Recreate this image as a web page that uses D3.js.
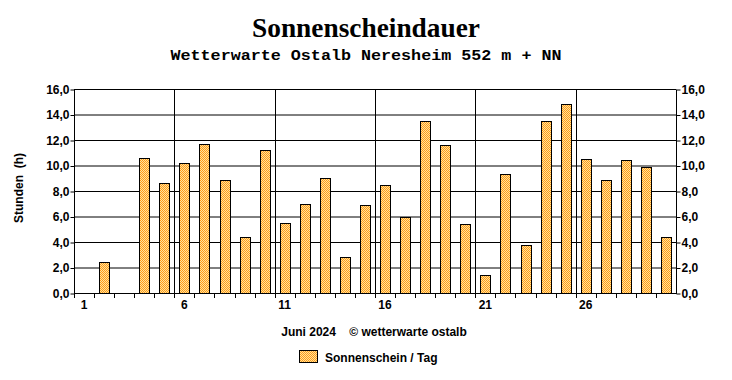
<!DOCTYPE html>
<html>
<head>
<meta charset="utf-8">
<script src="https://cdn.jsdelivr.net/npm/d3@7"></script>
<style>
  body { margin: 0; background: #fff; }
  text { font-weight: bold; }
</style>
</head>
<body>
<div id="chart"></div>
<script>
const days = d3.range(1, 31);
const sunHours = [0, 2.4, 0, 10.6, 8.6, 10.2, 11.7, 8.9, 4.4, 11.2,
                  5.5, 7.0, 9.0, 2.8, 6.9, 8.5, 6.0, 13.5, 11.6, 5.4,
                  1.4, 9.3, 3.8, 13.5, 14.8, 10.5, 8.9, 10.4, 9.9, 4.4];
const yTicks = [0, 2, 4, 6, 8, 10, 12, 14, 16];
const xLabels = [1, 6, 11, 16, 21, 26];

const width = 732, height = 380;
const plot = { left: 74, right: 676, top: 89, bottom: 293 };
const sans = "Arial, 'Liberation Sans', sans-serif";

const svg = d3.select("#chart").append("svg")
    .attr("width", width)
    .attr("height", height)
    .attr("font-family", sans);

const defs = svg.append("defs");
const pat = defs.append("pattern")
    .attr("id", "checker")
    .attr("patternUnits", "userSpaceOnUse")
    .attr("width", 2).attr("height", 2);
pat.append("rect").attr("width", 2).attr("height", 2).attr("fill", "#ffe39a");
pat.append("rect").attr("width", 1).attr("height", 1).attr("fill", "#ff9a1a");
pat.append("rect").attr("x", 1).attr("y", 1).attr("width", 1).attr("height", 1).attr("fill", "#ff9a1a");

const x = d3.scaleBand().domain(days).range([plot.left, plot.right]);
const y = d3.scaleLinear().domain([0, 16]).range([plot.bottom, plot.top]);

// horizontal grid
svg.append("g").selectAll("line").data(yTicks).join("line")
    .attr("x1", plot.left).attr("x2", plot.right)
    .attr("y1", d => y(d) + 0.5).attr("y2", d => y(d) + 0.5)
    .attr("stroke", "#000").attr("stroke-width", 1);

// vertical grid at 6, 11, 16, 21, 26
svg.append("g").selectAll("line").data(xLabels.slice(1)).join("line")
    .attr("x1", d => Math.round(x(d)) + 0.5).attr("x2", d => Math.round(x(d)) + 0.5)
    .attr("y1", plot.top).attr("y2", plot.bottom + 5)
    .attr("stroke", "#000");

// bars
svg.append("g").selectAll("rect").data(days.filter((d, i) => sunHours[i] > 0)).join("rect")
    .attr("x", d => Math.round(x(d) + x.bandwidth() / 2 - 5) + 0.5)
    .attr("width", 10)
    .attr("y", d => Math.round(y(sunHours[d - 1])) + 0.5)
    .attr("height", d => plot.bottom - Math.round(y(sunHours[d - 1])))
    .attr("fill", "url(#checker)")
    .attr("stroke", "#000");

// axes
const fmt = d => d.toFixed(1).replace(".", ",");
svg.append("g")
    .attr("transform", `translate(${plot.left + 0.5},0.5)`)
    .call(d3.axisLeft(y).tickValues(yTicks).tickFormat(fmt).tickSize(4).tickPadding(1))
    .call(g => g.select(".domain").attr("d", `M0,${plot.top}V${plot.bottom}`))
    .call(g => g.selectAll("text").attr("font-size", 12).attr("font-family", sans));

svg.append("g")
    .attr("transform", `translate(${plot.right + 0.5},0.5)`)
    .call(d3.axisRight(y).tickValues(yTicks).tickFormat(fmt).tickSize(4).tickPadding(1))
    .call(g => g.select(".domain").attr("d", `M0,${plot.top}V${plot.bottom}`))
    .call(g => g.selectAll("text").attr("font-size", 12).attr("font-family", sans));

// bottom axis line and minor ticks at day boundaries
svg.append("line")
    .attr("x1", plot.left).attr("x2", plot.right + 1)
    .attr("y1", plot.bottom + 0.5).attr("y2", plot.bottom + 0.5)
    .attr("stroke", "#000");
svg.append("g").selectAll("line").data(days).join("line")
    .attr("x1", d => Math.round(x(d)) + 0.5).attr("x2", d => Math.round(x(d)) + 0.5)
    .attr("y1", plot.bottom).attr("y2", plot.bottom + 5)
    .attr("stroke", "#000");

svg.append("g").selectAll("text").data(xLabels).join("text")
    .attr("x", d => x(d) + x.bandwidth() / 2)
    .attr("y", 309)
    .attr("text-anchor", "middle")
    .attr("font-size", 12)
    .text(d => d);

// titles
svg.append("text")
    .attr("x", 366).attr("y", 37)
    .attr("text-anchor", "middle")
    .style("font-family", "'Liberation Serif', 'Times New Roman', serif")
    .attr("font-size", 28)
    .attr("textLength", 228)
    .attr("lengthAdjust", "spacingAndGlyphs")
    .text("Sonnenscheindauer");

svg.append("text")
    .attr("x", 366).attr("y", 60)
    .attr("text-anchor", "middle")
    .style("font-family", "'Liberation Mono', 'Courier New', monospace")
    .attr("font-size", 15)
    .attr("textLength", 391)
    .attr("lengthAdjust", "spacingAndGlyphs")
    .text("Wetterwarte Ostalb Neresheim 552 m + NN");

svg.append("text")
    .attr("transform", "translate(23,188) rotate(-90)")
    .attr("text-anchor", "middle")
    .attr("font-size", 12)
    .attr("xml:space", "preserve")
    .text("Stunden  (h)");

svg.append("text")
    .attr("x", 374).attr("y", 336)
    .attr("text-anchor", "middle")
    .attr("font-size", 12)
    .attr("xml:space", "preserve")
    .text("Juni 2024    © wetterwarte ostalb");

// legend
svg.append("rect")
    .attr("x", 299.5).attr("y", 350.5)
    .attr("width", 18).attr("height", 12)
    .attr("fill", "url(#checker)").attr("stroke", "#000");
svg.append("text")
    .attr("x", 325).attr("y", 362)
    .attr("font-size", 12)
    .text("Sonnenschein / Tag");
</script>
</body>
</html>
